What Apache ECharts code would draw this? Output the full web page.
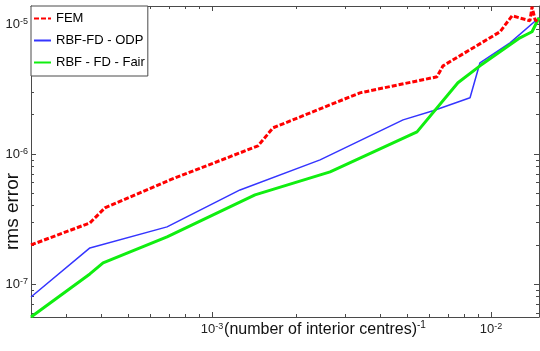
<!DOCTYPE html>
<html>
<head>
<meta charset="utf-8">
<script src="https://cdn.jsdelivr.net/npm/echarts@6/dist/echarts.min.js"></script>
<style>
html, body { margin: 0; padding: 0; background: #fff; }
#chart { width: 540px; height: 351px; }
</style>
</head>
<body>
<div id="chart"></div>
<script>
// x = (number of interior centres)^-1, y = rms error
var femX = [2.245e-4, 3.65e-4, 4.13e-4, 7.07e-4, 1.462e-3, 1.654e-3, 3.39e-3, 6.40e-3, 6.73e-3, 1.077e-2, 1.19e-2, 1.379e-2, 1.403e-2, 1.439e-2, 1.486e-2];
var femY = [1.995e-7, 2.945e-7, 3.84e-7, 6.31e-7, 1.152e-6, 1.585e-6, 2.945e-6, 3.91e-6, 4.75e-6, 8.68e-6, 1.152e-5, 1.054e-5, 1.352e-5, 1.074e-5, 1.018e-5];

var odpX = [2.245e-4, 3.65e-4, 6.90e-4, 1.26e-3, 2.44e-3, 4.84e-3, 6.20e-3, 8.41e-3, 9.13e-3, 1.17e-2, 1.486e-2];
var odpY = [7.94e-8, 1.891e-7, 2.745e-7, 5.28e-7, 8.99e-7, 1.826e-6, 2.143e-6, 2.697e-6, 5.01e-6, 7.14e-6, 1.112e-5];

var fairX = [2.245e-4, 3.65e-4, 4.07e-4, 6.90e-4, 1.426e-3, 2.65e-3, 5.43e-3, 7.61e-3, 9.13e-3, 1.27e-2, 1.403e-2, 1.486e-2];
var fairY = [5.57e-8, 1.194e-7, 1.45e-7, 2.30e-7, 4.84e-7, 7.27e-7, 1.476e-6, 3.52e-6, 4.75e-6, 7.80e-6, 8.68e-6, 1.112e-5];

var seriesNames = ['FEM', 'RBF-FD - ODP', 'RBF - FD - Fair'];

var xMin = 2.245e-4, xMax = 1.486e-2;
var yMin = 5.57e-8, yMax = 1.37e-5;

var xMajor = [1e-3, 1e-2];
var xMinor = [3e-4, 4e-4, 5e-4, 6e-4, 7e-4, 8e-4, 9e-4,
              2e-3, 3e-3, 4e-3, 5e-3, 6e-3, 7e-3, 8e-3, 9e-3];
var yMajor = [1e-7, 1e-6, 1e-5];
var yMinor = [6e-8, 7e-8, 8e-8, 9e-8,
              2e-7, 3e-7, 4e-7, 5e-7, 6e-7, 7e-7, 8e-7, 9e-7,
              2e-6, 3e-6, 4e-6, 5e-6, 6e-6, 7e-6, 8e-6, 9e-6];

var FONT = '"Liberation Sans", Arial, sans-serif';
var AXIS_COLOR = '#4a4a4a';

function pairs(xs, ys) {
    return xs.map(function (x, i) { return [x, ys[i]]; });
}

function powLabel(v) {
    return '{b|10}{s|' + Math.round(Math.log10(v)) + '}';
}

function makeAxis(opts) {
    return {
        type: 'log',
        logBase: 10,
        position: opts.position,
        min: opts.min,
        max: opts.max,
        splitLine: { show: false },
        minorTick: { show: false },
        axisLine: { show: !!opts.line, lineStyle: { color: AXIS_COLOR, width: 1 } },
        axisTick: {
            show: true,
            inside: true,
            length: opts.len,
            customValues: opts.ticks,
            lineStyle: { color: AXIS_COLOR, width: 1 }
        },
        axisLabel: opts.label ? opts.label : { show: false }
    };
}

var chart = echarts.init(document.getElementById('chart'));

var xLabel = {
    show: true,
    customValues: xMajor,
    margin: 5,
    formatter: powLabel,
    rich: {
        b: { fontSize: 13, fontFamily: FONT, color: '#222', lineHeight: 14, verticalAlign: 'bottom' },
        s: { fontSize: 9, fontFamily: FONT, color: '#222', lineHeight: 9, verticalAlign: 'top', padding: [0, 0, 6, 0] }
    }
};
var yLabel = {
    show: true,
    customValues: yMajor,
    margin: 3,
    formatter: powLabel,
    rich: {
        b: { fontSize: 13, fontFamily: FONT, color: '#222', lineHeight: 14, verticalAlign: 'bottom' },
        s: { fontSize: 9, fontFamily: FONT, color: '#222', lineHeight: 9, verticalAlign: 'top', padding: [0, 0, 14, 0] }
    }
};

var xBottom = makeAxis({ position: 'bottom', min: xMin, max: xMax, ticks: xMajor, len: 5, line: true, label: xLabel });
xBottom.name = '{t|(number of interior centres)}{s|-1}';
xBottom.nameLocation = 'middle';
xBottom.nameGap = 3;
xBottom.nameMoveOverlap = false;
xBottom.nameTextStyle = {
    padding: [0, 0, 0, 80],
    rich: {
        t: { fontSize: 16, fontFamily: FONT, color: '#111', lineHeight: 18, verticalAlign: 'bottom' },
        s: { fontSize: 10, fontFamily: FONT, color: '#111', lineHeight: 10, verticalAlign: 'top', padding: [0, 0, 8, 0] }
    }
};

var yLeft = makeAxis({ position: 'left', min: yMin, max: yMax, ticks: yMajor, len: 5, line: true, label: yLabel });
yLeft.name = 'rms error';
yLeft.nameLocation = 'middle';
yLeft.nameGap = 8;
yLeft.nameMoveOverlap = false;
yLeft.nameTextStyle = {
    fontSize: 19, fontFamily: FONT, color: '#111', lineHeight: 20,
    padding: [0, 100, 0, 0]
};

var option = {
    animation: false,
    backgroundColor: '#fff',
    grid: { left: 31, right: 1, top: 6, bottom: 34, containLabel: false, outerBoundsMode: 'none' },
    legend: {
        orient: 'vertical',
        left: 31,
        top: 6,
        padding: [6, 3, 7, 2],
        itemGap: 9,
        itemWidth: 17,
        itemHeight: 14,
        backgroundColor: '#fff',
        borderColor: AXIS_COLOR,
        borderWidth: 1,
        borderRadius: 0,
        selectedMode: false,
        itemStyle: { opacity: 0 },
        textStyle: { fontSize: 13, fontFamily: FONT, color: '#000' },
        data: seriesNames
    },
    xAxis: [
        xBottom,
        makeAxis({ position: 'bottom', min: xMin, max: xMax, ticks: xMinor, len: 3 }),
        makeAxis({ position: 'top', min: xMin, max: xMax, ticks: xMajor, len: 5, line: true }),
        makeAxis({ position: 'top', min: xMin, max: xMax, ticks: xMinor, len: 3 })
    ],
    yAxis: [
        yLeft,
        makeAxis({ position: 'left', min: yMin, max: yMax, ticks: yMinor, len: 3 }),
        makeAxis({ position: 'right', min: yMin, max: yMax, ticks: yMajor, len: 5, line: true }),
        makeAxis({ position: 'right', min: yMin, max: yMax, ticks: yMinor, len: 3 })
    ],
    series: [
        {
            name: seriesNames[0],
            type: 'line',
            symbol: 'none',
            data: pairs(femX, femY),
            lineStyle: { color: '#ff0000', width: 3, type: [5, 2] },
            itemStyle: { color: '#ff0000' },
            z: 3
        },
        {
            name: seriesNames[1],
            type: 'line',
            symbol: 'none',
            data: pairs(odpX, odpY),
            lineStyle: { color: '#3535ff', width: 1.5 },
            itemStyle: { color: '#3535ff' },
            z: 2
        },
        {
            name: seriesNames[2],
            type: 'line',
            symbol: 'none',
            data: pairs(fairX, fairY),
            lineStyle: { color: '#10ee10', width: 3 },
            itemStyle: { color: '#10ee10' },
            z: 2
        }
    ]
};

chart.setOption(option);
window.addEventListener('resize', chart.resize);
</script>
</body>
</html>
